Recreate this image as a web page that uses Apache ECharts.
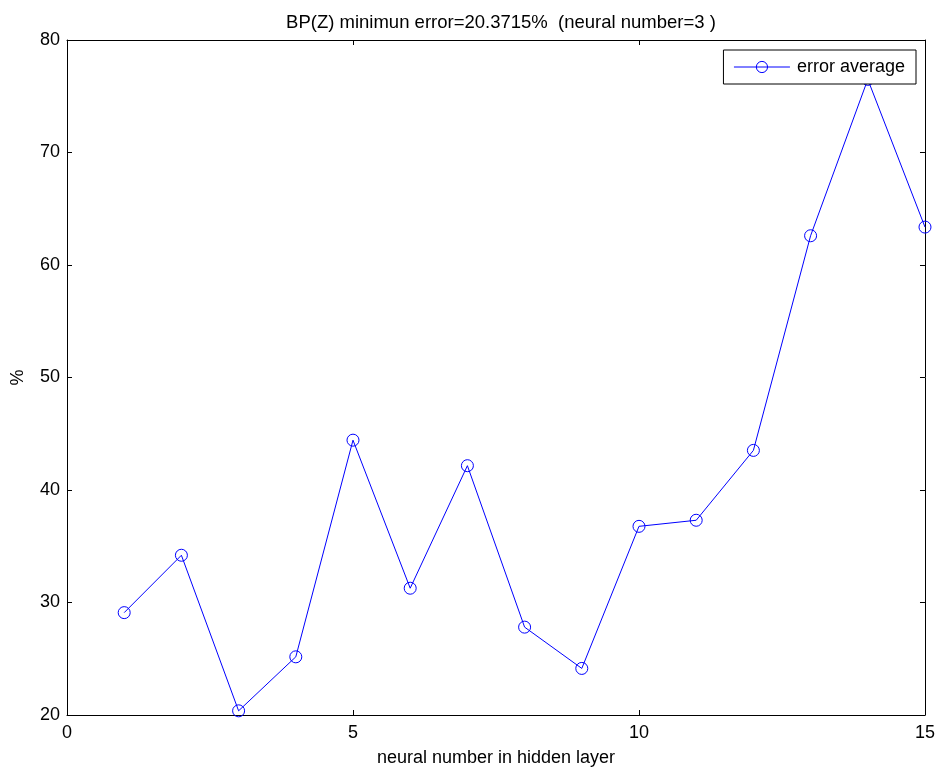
<!DOCTYPE html>
<html>
<head>
<meta charset="utf-8">
<script src="https://cdn.jsdelivr.net/npm/echarts@6/dist/echarts.min.js"></script>
<style>html,body{margin:0;padding:0;background:#fff}#c{width:938px;height:772px}</style>
</head>
<body>
<div id="c"></div>
<script>
const neuralNumbers = [1,2,3,4,5,6,7,8,9,10,11,12,13,14,15];
const errorAverage = [29.1,34.2,20.37,25.17,44.43,31.27,42.16,27.81,24.14,36.77,37.31,43.52,62.6,76.5,63.37];
const titleText = 'BP(Z) minimun error=20.3715%  (neural number=3 )';
const seriesName = 'error average';
const xLabel = 'neural number in hidden layer';
const yLabel = '%';

const font = 'Liberation Sans, Arial, Helvetica, sans-serif';
const chart = echarts.init(document.getElementById('c'));
const axisCommon = {
  axisLine: {show: true, onZero: false, lineStyle: {color: '#000', width: 1}},
  axisTick: {show: true, inside: true, length: 5, lineStyle: {color: '#000'}},
  splitLine: {show: false}
};
chart.setOption({
  backgroundColor: '#fff',
  animation: false,
  title: {
    text: titleText, left: 496, top: 8, textAlign: 'center',
    textStyle: {fontFamily: font, fontSize: 18.5, fontWeight: 'normal', color: '#000'}
  },
  legend: {
    data: [seriesName], right: 22, top: 50,
    itemWidth: 56, itemHeight: 14, itemGap: 0,
    padding: [8, 11, 8, 10],
    backgroundColor: '#fff', borderColor: '#000', borderWidth: 1,
    lineStyle: {width: 1},
    itemStyle: {borderWidth: 1},
    textStyle: {fontFamily: font, fontSize: 18, color: '#000', padding: [0, 0, 0, 2]}
  },
  grid: {left: 67, right: 13, top: 40, bottom: 56},
  xAxis: [
    Object.assign({type: 'value', min: 0, max: 15, interval: 5, position: 'bottom',
      name: xLabel, nameLocation: 'middle', nameGap: 34,
      nameTextStyle: {fontFamily: font, fontSize: 18, color: '#000'},
      axisLabel: {fontFamily: font, fontSize: 18, color: '#000', margin: 9}}, axisCommon),
    Object.assign({type: 'value', min: 0, max: 15, interval: 5, position: 'top',
      axisLabel: {show: false}}, axisCommon)
  ],
  yAxis: [
    Object.assign({type: 'value', min: 20, max: 80, interval: 10, position: 'left',
      name: yLabel, nameLocation: 'middle', nameGap: 40, nameRotate: 90,
      nameTextStyle: {fontFamily: font, fontSize: 18, color: '#000'},
      axisLabel: {fontFamily: font, fontSize: 18, color: '#000', margin: 7}}, axisCommon),
    Object.assign({type: 'value', min: 20, max: 80, interval: 10, position: 'right',
      axisLabel: {show: false}}, axisCommon)
  ],
  series: [{
    name: seriesName, type: 'line',
    data: neuralNumbers.map((n, i) => [n, errorAverage[i]]),
    symbol: 'circle', symbolSize: 12,
    itemStyle: {color: 'rgba(0,0,0,0)', borderColor: '#0000ff', borderWidth: 1},
    lineStyle: {color: '#0000ff', width: 1},
    emphasis: {disabled: true},
    z: 1
  }]
});
</script>
</body>
</html>
